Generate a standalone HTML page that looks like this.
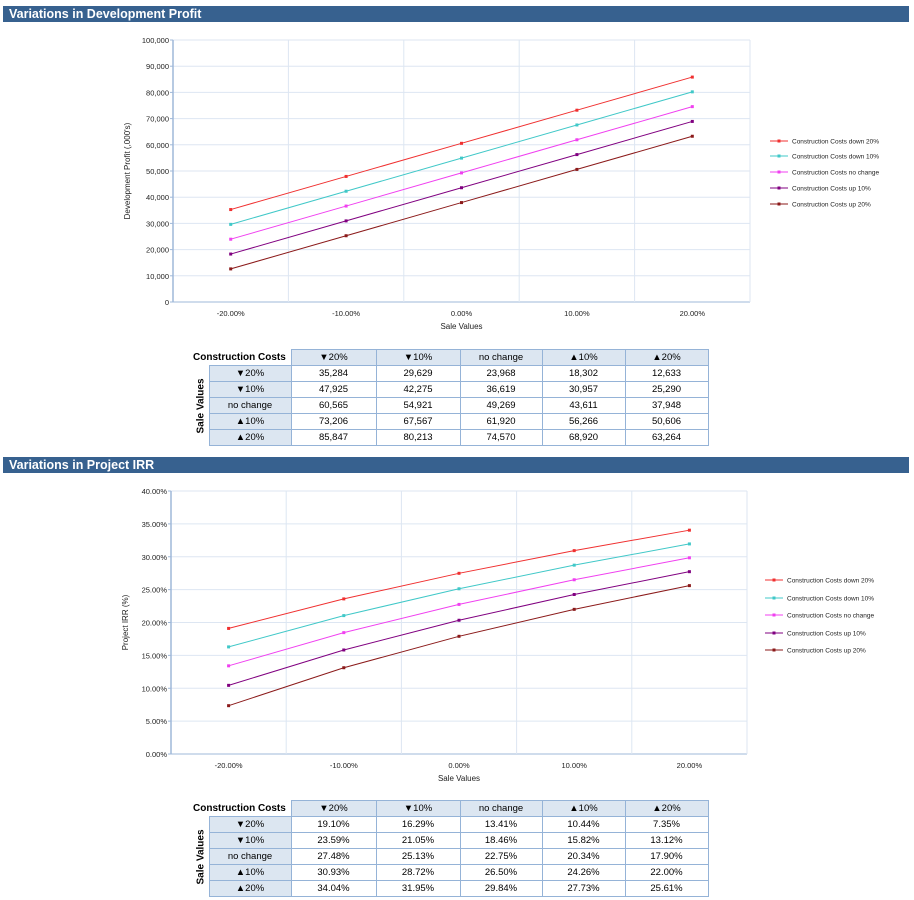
<!DOCTYPE html>
<html><head><meta charset="utf-8"><style>
body{margin:0;width:914px;height:900px;background:#fff;font-family:"Liberation Sans",sans-serif;position:relative;overflow:hidden}
.hdr{position:absolute;left:3px;width:906px;height:16px;background:#37618f;color:#fff;font-weight:bold;font-size:12.5px;line-height:16px;padding-left:6px;box-sizing:border-box}
svg{position:absolute;left:0;top:0}
table{position:absolute;border-collapse:collapse;font-size:9.5px;table-layout:fixed}
td{border:1px solid #95b3d7;height:15px;padding:0;text-align:center;line-height:15px}
td.h{background:#dce6f1}
td.cc{border:none;font-weight:bold;font-size:10px;text-align:left;background:#fff}
td.sv{border:none;background:#fff;width:16px;position:relative}
.sv div{position:absolute;left:50%;top:50%;transform:translate(-50%,-50%) rotate(-90deg);font-weight:bold;font-size:10px;white-space:nowrap}
</style></head><body>
<div class="hdr" style="top:6px">Variations in Development Profit</div>
<div class="hdr" style="top:457px">Variations in Project IRR</div>
<svg id="s" width="914" height="900"></svg>
<div id="t1"></div>
<div id="t2"></div>
<script>
const categories=["-20.00%","-10.00%","0.00%","10.00%","20.00%"];
const seriesNames=["Construction Costs down 20%","Construction Costs down 10%","Construction Costs no change","Construction Costs up 10%","Construction Costs up 20%"];
const colors=["#f03030","#40c8c8","#f040f0","#800080","#8b1a1a"];
const profitDown20=[35284,47925,60565,73206,85847];
const profitDown10=[29629,42275,54921,67567,80213];
const profitNoChange=[23968,36619,49269,61920,74570];
const profitUp10=[18302,30957,43611,56266,68920];
const profitUp20=[12633,25290,37948,50606,63264];
const irrDown20=[19.10,23.59,27.48,30.93,34.04];
const irrDown10=[16.29,21.05,25.13,28.72,31.95];
const irrNoChange=[13.41,18.46,22.75,26.50,29.84];
const irrUp10=[10.44,15.82,20.34,24.26,27.73];
const irrUp20=[7.35,13.12,17.90,22.00,25.61];
const profitTicks=["0","10,000","20,000","30,000","40,000","50,000","60,000","70,000","80,000","90,000","100,000"];
const irrTicks=["0.00%","5.00%","10.00%","15.00%","20.00%","25.00%","30.00%","35.00%","40.00%"];
const rowLabels=["▼20%","▼10%","no change","▲10%","▲20%"];
const colLabels=["▼20%","▼10%","no change","▲10%","▲20%"];

const S=document.getElementById('s');const NS="http://www.w3.org/2000/svg";
function el(t,a,txt){const e=document.createElementNS(NS,t);for(const k in a)e.setAttribute(k,a[k]);if(txt!==undefined)e.textContent=txt;S.appendChild(e);return e;}
function chart(c){
 const {L,R,T,B,max,ticks,series,ytitle,lx,ly,name}=c;
 const n=categories.length,cw=(R-L)/n;
 const x=i=>L+cw*(i+0.5), y=v=>B-(v/max)*(B-T);
 ticks.forEach((t,i)=>{const v=max*i/(ticks.length-1),yy=y(v);
  const g=el('line',{x1:L,x2:R,y1:yy,y2:yy,stroke:i?'#dde6f2':'#9fb8d9','stroke-width':1});
  
  el('line',{x1:L-3,x2:L,y1:yy,y2:yy,stroke:'#9fb8d9'});
  const tx=el('text',{x:L-4,y:yy+3,'text-anchor':'end','font-size':'7.5',fill:'#222'},t);
  });
 for(let i=1;i<=n;i++){const xx=L+cw*i;el('line',{x1:xx,x2:xx,y1:T,y2:B,stroke:'#dde6f2'});}
 el('line',{x1:L,x2:L,y1:T,y2:B,stroke:'#9fb8d9','stroke-width':1.5});
 categories.forEach((cat,i)=>{const tx=el('text',{x:x(i),y:B+14,'text-anchor':'middle','font-size':'7.5',fill:'#222'},cat);
  });
 const xt=el('text',{x:(L+R)/2,y:B+27,'text-anchor':'middle','font-size':'8',fill:'#222'},'Sale Values');
 
 const yt=el('text',{x:0,y:0,transform:`translate(${L-43},${(T+B)/2}) rotate(-90)`,'text-anchor':'middle','font-size':'8',fill:'#222'},ytitle);
 
 series.forEach((s,k)=>{
  const p=el('polyline',{points:s.map((v,i)=>x(i)+','+y(v)).join(' '),fill:'none',stroke:colors[k],'stroke-width':1});
  
  s.forEach((v,i)=>{const m=el('rect',{x:x(i)-1.5,y:y(v)-1.5,width:3,height:3,fill:colors[k]});
   });
  const yy=ly[k];
  el('line',{x1:lx,x2:lx+18,y1:yy,y2:yy,stroke:colors[k]});
  el('rect',{x:lx+7.5,y:yy-1.5,width:3,height:3,fill:colors[k]});
  const lt=el('text',{x:lx+22,y:yy+2.5,'font-size':'6.5',fill:'#222'},seriesNames[k]);
  
 });
}
chart({L:173,R:750,T:40,B:302,max:100000,ticks:profitTicks,series:[profitDown20,profitDown10,profitNoChange,profitUp10,profitUp20],ytitle:"Development Profit (,000's)",lx:770,ly:[141,156,172,188,204],name:'profit'});
chart({L:171,R:747,T:491,B:754,max:40,ticks:irrTicks,series:[irrDown20,irrDown10,irrNoChange,irrUp10,irrUp20],ytitle:"Project IRR (%)",lx:765,ly:[580,598,615,633,650],name:'irr'});

function table(id,top,series,fmt){
 let h=`<table style="left:193px;top:${top}px;width:515px"><colgroup><col style="width:16px"><col style="width:82px"><col style="width:85px"><col style="width:84px"><col style="width:82px"><col style="width:83px"><col style="width:83px"></colgroup>`;
 h+=`<tr><td class="cc" colspan="2">Construction Costs</td>`+colLabels.map(c=>`<td class="h">${c}</td>`).join('')+'</tr>';
 rowLabels.forEach((r,i)=>{h+='<tr>'+(i==0?`<td class="sv" rowspan="5"><div>Sale Values</div></td>`:'')+`<td class="h">${r}</td>`+series.map(s=>`<td>${fmt(s[i])}</td>`).join('')+'</tr>';});
 document.getElementById(id).innerHTML=h+'</table>';
}
table('t1',349,[profitDown20,profitDown10,profitNoChange,profitUp10,profitUp20],v=>v.toLocaleString('en-US'));
table('t2',800,[irrDown20,irrDown10,irrNoChange,irrUp10,irrUp20],v=>v.toFixed(2)+'%');
</script>
</body></html>
